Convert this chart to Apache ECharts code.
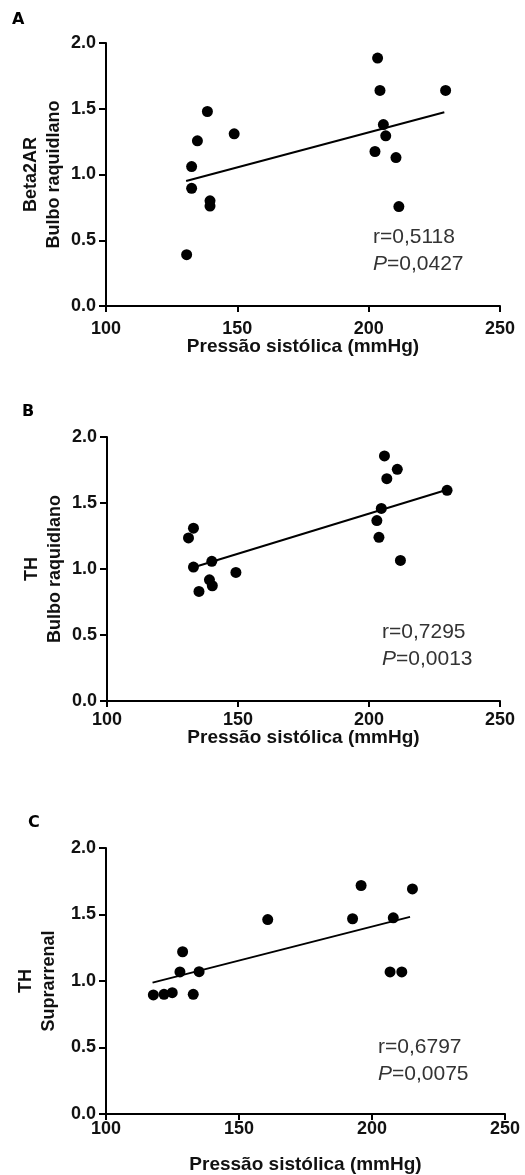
<!DOCTYPE html>
<html>
<head>
<meta charset="utf-8">
<script src="https://cdn.jsdelivr.net/npm/echarts@6/dist/echarts.min.js"></script>
<style>
  html, body { margin: 0; padding: 0; background: #fff; }
  #chart { width: 525px; height: 1175px; }
</style>
</head>
<body>
<div id="chart"></div>
<script>
// x = pressão sistólica (mmHg), y = expressão relativa
const xTicks = [100, 150, 200, 250]
const yTickLabels = ['0.0', '0.5', '1.0', '1.5', '2.0']

const pointsA = [
  [130.7, 0.39], [132.6, 1.06], [132.6, 0.895], [134.8, 1.256],
  [138.6, 1.479], [139.6, 0.80], [139.6, 0.76], [148.8, 1.309],
  [203.4, 1.885], [204.3, 1.639], [205.6, 1.38], [206.5, 1.294],
  [202.4, 1.175], [210.4, 1.129], [211.5, 0.756], [229.3, 1.639],
]
const fitA = [[130.5, 0.951], [228.8, 1.474]]

const pointsB = [
  [131.1, 1.235], [133.0, 1.309], [133.0, 1.015], [135.1, 0.83],
  [140.0, 1.058], [139.1, 0.918], [140.2, 0.873], [149.2, 0.974],
  [205.9, 1.857], [206.8, 1.684], [210.8, 1.755], [204.7, 1.459],
  [203.0, 1.367], [203.8, 1.24], [212.0, 1.065], [229.8, 1.596],
]
const fitB = [[132.5, 1.01], [229.8, 1.6]]

const pointsC = [
  [117.8, 0.895], [121.8, 0.9], [124.9, 0.912], [127.8, 1.068],
  [128.8, 1.22], [132.8, 0.9], [135.0, 1.07], [160.8, 1.462],
  [192.7, 1.468], [195.9, 1.718], [208.0, 1.475], [206.8, 1.068],
  [211.2, 1.068], [215.2, 1.692],
]
const fitC = [[117.5, 0.988], [214.3, 1.482]]

const panels = [
  { letter: 'A', yName: 'Beta2AR\nBulbo raquidlano', r: '0,5118', p: '0,0427', points: pointsA, fit: fitA },
  { letter: 'B', yName: 'TH\nBulbo raquidlano', r: '0,7295', p: '0,0013', points: pointsB, fit: fitB },
  { letter: 'C', yName: 'TH\nSuprarrenal', r: '0,6797', p: '0,0075', points: pointsC, fit: fitC },
]

const xName = 'Pressão sistólica (mmHg)'
const font = '"Liberation Sans", Arial, sans-serif'

// layout per panel
const grids = [
  { left: 106, width: 394, top: 43, height: 263 },
  { left: 107, width: 393, top: 437, height: 264 },
  { left: 106, width: 399, top: 848, height: 267 },
]
const yNameGap = [40, 40, 45]
const xLabelMargin = [14, 10, 6]
const xNameGap = [31, 27, 41]
const letterPos = [[12, 12], [22, 404], [28, 815]]
const notePos = [[373, 224], [382, 619], [378, 1034]]

const axisLine = { lineStyle: { color: '#000', width: 2 } }

const option = {
  animation: false,
  backgroundColor: '#fff',
  title: panels.flatMap((p, i) => [
    {
      text: p.letter,
      left: letterPos[i][0],
      top: letterPos[i][1],
      padding: 0,
      textStyle: { fontFamily: '"DejaVu Sans", sans-serif', fontWeight: 'bold', fontSize: 16, color: '#000' },
    },
    {
      text: '{n|r=' + p.r + '}\n{i|P}{n|=' + p.p + '}',
      left: notePos[i][0],
      top: notePos[i][1],
      padding: 0,
      textStyle: {
        fontWeight: 'normal',
        rich: {
          n: { fontFamily: font, fontSize: 21, fontWeight: 'normal', color: '#333', lineHeight: 27 },
          i: { fontFamily: font, fontSize: 21, fontWeight: 'normal', color: '#333', lineHeight: 27, fontStyle: 'italic' },
        },
      },
    },
  ]),
  grid: grids,
  xAxis: grids.map((g, i) => ({
    type: 'value',
    gridIndex: i,
    min: xTicks[0],
    max: xTicks[xTicks.length - 1],
    interval: 50,
    name: xName,
    nameLocation: 'middle',
    nameGap: xNameGap[i],
    nameMoveOverlap: false,
    nameTextStyle: { fontFamily: font, fontWeight: 'bold', fontSize: 19, color: '#111' },
    axisLine: axisLine,
    axisTick: { show: true, length: 6, lineStyle: { color: '#000', width: 2 } },
    axisLabel: { fontFamily: font, fontWeight: 'bold', fontSize: 18, color: '#111', margin: xLabelMargin[i] },
    splitLine: { show: false },
  })),
  yAxis: grids.map((g, i) => ({
    type: 'value',
    gridIndex: i,
    min: 0,
    max: 2,
    interval: 0.5,
    name: panels[i].yName,
    nameLocation: 'middle',
    nameGap: yNameGap[i],
    nameMoveOverlap: false,
    nameTextStyle: { fontFamily: font, fontWeight: 'bold', fontSize: 18, lineHeight: 23, color: '#111' },
    axisLine: axisLine,
    axisTick: { show: true, length: 7, lineStyle: { color: '#000', width: 2 } },
    axisLabel: {
      fontFamily: font, fontWeight: 'bold', fontSize: 18, color: '#111', margin: 10,
      formatter: v => yTickLabels[Math.round(v / 0.5)],
    },
    splitLine: { show: false },
  })),
  series: panels.flatMap((p, i) => [
    {
      type: 'scatter',
      xAxisIndex: i,
      yAxisIndex: i,
      data: p.points,
      symbol: 'circle',
      symbolSize: 11,
      itemStyle: { color: '#000', opacity: 1 },
    },
    {
      type: 'line',
      xAxisIndex: i,
      yAxisIndex: i,
      data: p.fit,
      showSymbol: false,
      lineStyle: { color: '#000', width: 2 },
      z: 1,
    },
  ]),
}

const chart = echarts.init(document.getElementById('chart'))
chart.setOption(option)
</script>
</body>
</html>
